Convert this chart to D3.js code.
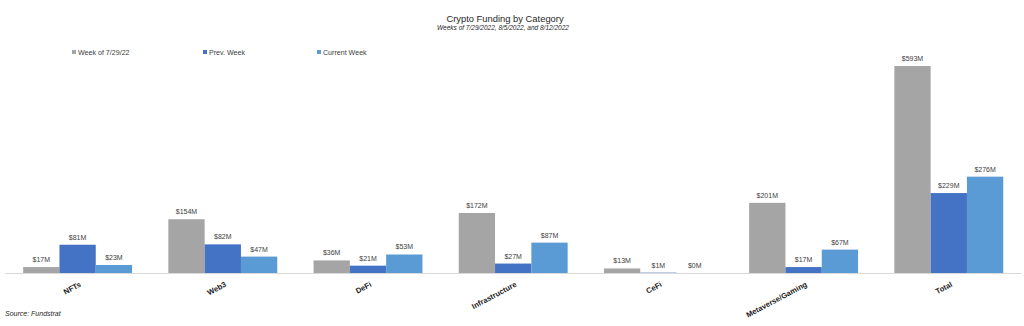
<!DOCTYPE html>
<html><head><meta charset="utf-8">
<script src="https://cdn.jsdelivr.net/npm/d3@7"></script>
<style>
html,body{margin:0;padding:0;background:#fff;}
svg{display:block;font-family:"Liberation Sans",Arial,sans-serif;}
</style>
</head><body>
<svg id="chart" width="1024" height="326"></svg>
<script>
const categories = ["NFTs","Web3","DeFi","Infrastructure","CeFi","Metaverse/Gaming","Total"];
const seriesNames = ["Week of 7/29/22","Prev. Week","Current Week"];
const week0729 = [17,154,36,172,13,201,593];
const prevWeek = [81,82,21,27,1,17,229];
const currentWeek = [23,47,53,87,0,67,276];
const colors = ["#A5A5A5","#4472C4","#5B9BD5"];
const title = "Crypto Funding by Category";
const subtitle = "Weeks of 7/29/2022, 8/5/2022, and 8/12/2022";
const source = "Source: Fundstrat";

const series = [week0729, prevWeek, currentWeek];
const svg = d3.select("#chart");

const x0 = d3.scaleBand().domain(categories).range([5, 1021.4]).paddingInner(0.25).paddingOuter(0.125);
const x1 = d3.scaleBand().domain(d3.range(series.length)).range([0, x0.bandwidth()]);
const y = d3.scaleLinear().domain([0, 593]).range([273, 66]);

// title
svg.append("text").attr("x", 505).attr("y", 22).attr("text-anchor","middle")
  .attr("font-size", 9.4).attr("fill","#262626").text(title);
svg.append("text").attr("x", 503).attr("y", 29.5).attr("text-anchor","middle")
  .attr("font-size", 6.5).attr("font-style","italic").attr("fill","#262626").text(subtitle);

// legend
const legendX = [72, 203, 317];
const lg = svg.append("g");
seriesNames.forEach((n,i)=>{
  lg.append("rect").attr("x", legendX[i]).attr("y", 50).attr("width",4).attr("height",4).attr("fill",colors[i]);
  lg.append("text").attr("x", legendX[i]+6).attr("y", 54.6).attr("font-size",7.1).attr("fill","#404040").text(n);
});

// bars
const groups = svg.append("g").selectAll("g").data(categories).join("g")
  .attr("transform", d => `translate(${x0(d)},0)`);
groups.selectAll("rect").data((d,ci)=>series.map((s,si)=>({si, v:s[ci]}))).join("rect")
  .attr("x", d=>x1(d.si)).attr("width", x1.bandwidth())
  .attr("y", d=>y(d.v)).attr("height", d=>y(0)-y(d.v))
  .attr("fill", d=>colors[d.si]);
groups.selectAll("text").data((d,ci)=>series.map((s,si)=>({si, v:s[ci]}))).join("text")
  .attr("x", d=>x1(d.si)+x1.bandwidth()/2).attr("y", d=>y(d.v)-5)
  .attr("text-anchor","middle").attr("font-size",7).attr("fill","#404040")
  .text(d=>`$${d.v}M`);

// axis
const xAxis = svg.append("g").attr("transform","translate(0,273)")
  .call(d3.axisBottom(x0).tickSize(0).tickSizeOuter(0));
xAxis.select(".domain").attr("stroke","#D9D9D9").attr("d","M5,0.5H1021.4");
xAxis.selectAll(".tick text")
  .attr("font-family","Liberation Sans, Arial, sans-serif")
  .attr("font-size",7.6).attr("font-weight","bold").attr("fill","#1a1a1a")
  .attr("text-anchor","end").attr("x",0).attr("y",0).attr("dy",0)
  .attr("transform","translate(4,13) rotate(-28)");

svg.append("text").attr("x",5).attr("y",316).attr("font-size",7)
  .attr("font-style","italic").attr("fill","#262626").text(source);
</script>
</body></html>
